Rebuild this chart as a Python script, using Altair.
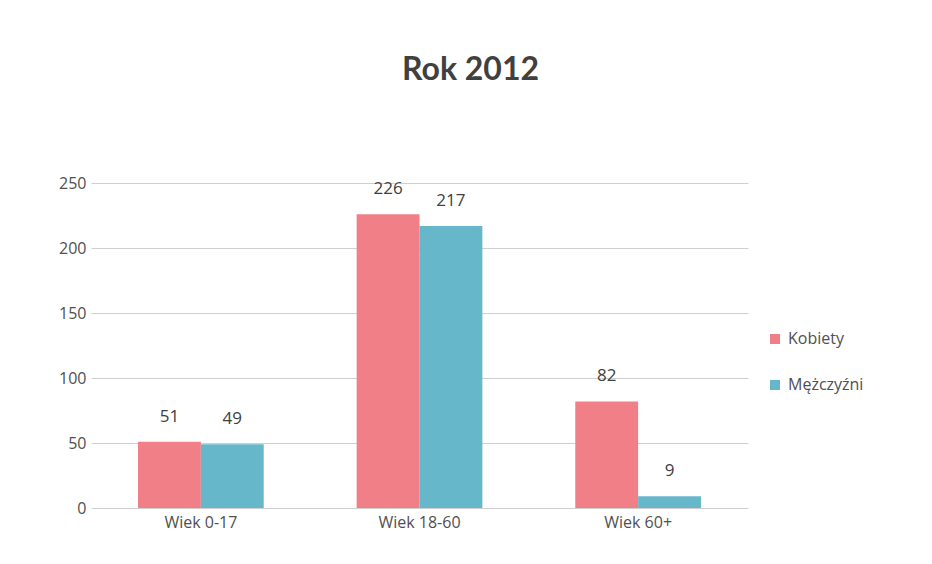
import altair as alt
import pandas as pd

categories = ["Wiek 0-17", "Wiek 18-60", "Wiek 60+"]
series = ["Kobiety", "Mężczyźni"]
kobiety = [51, 226, 82]
mezczyzni = [49, 217, 9]

rows = []
for c, k, m in zip(categories, kobiety, mezczyzni):
    rows.append({"kat": c, "plec": series[0], "wartosc": k})
    rows.append({"kat": c, "plec": series[1], "wartosc": m})
df = pd.DataFrame(rows)

colors = ["#F07F88", "#67B7CB"]

x = alt.X("kat:N", sort=categories, title=None,
          scale=alt.Scale(paddingInner=0.425, paddingOuter=0.215),
          axis=alt.Axis(labelAngle=0, labelFontSize=16, labelColor="#505050",
                        labelFont="Open Sans", domain=False, ticks=False, labelPadding=6))
xo = alt.XOffset("plec:N", sort=series)

bars = alt.Chart(df).mark_bar().encode(
    x=x, xOffset=xo,
    y=alt.Y("wartosc:Q", title=None,
            scale=alt.Scale(domain=[0, 250], nice=False),
            axis=alt.Axis(values=[0, 50, 100, 150, 200, 250], labelFontSize=16,
                          labelColor="#505050", labelFont="Open Sans",
                          domain=False, ticks=False, labelPadding=5,
                          gridColor="#cfcfcf", gridWidth=1)),
    color=alt.Color("plec:N", sort=series, title=None,
                    scale=alt.Scale(domain=series, range=colors),
                    legend=alt.Legend(orient="none", legendX=676, legendY=148,
                                      symbolType="square", symbolSize=100,
                                      labelFontSize=16, labelFont="Open Sans",
                                      labelColor="#505050", rowPadding=30,
                                      labelOffset=5, symbolStrokeWidth=0))
)

labels = alt.Chart(df).mark_text(baseline="bottom", dy=-16, fontSize=17,
                                 font="Open Sans", color="#404040").encode(
    x=x, xOffset=xo,
    y=alt.Y("wartosc:Q"),
    text=alt.Text("wartosc:Q")
)

chart = alt.layer(bars, labels).properties(
    width=657, height=325,
    padding={"left": 83, "top": 175, "right": 170, "bottom": 40},
    autosize=alt.AutoSizeParams(type="none"),
    title=alt.TitleParams("Rok 2012", fontSize=32, font="Lato", fontWeight="bold",
                          color="#404040", anchor="middle", dx=51, offset=88),
).configure(background="white").configure_view(stroke=None)

chart.save("out.html", embed_options={"renderer": "svg", "actions": False})
